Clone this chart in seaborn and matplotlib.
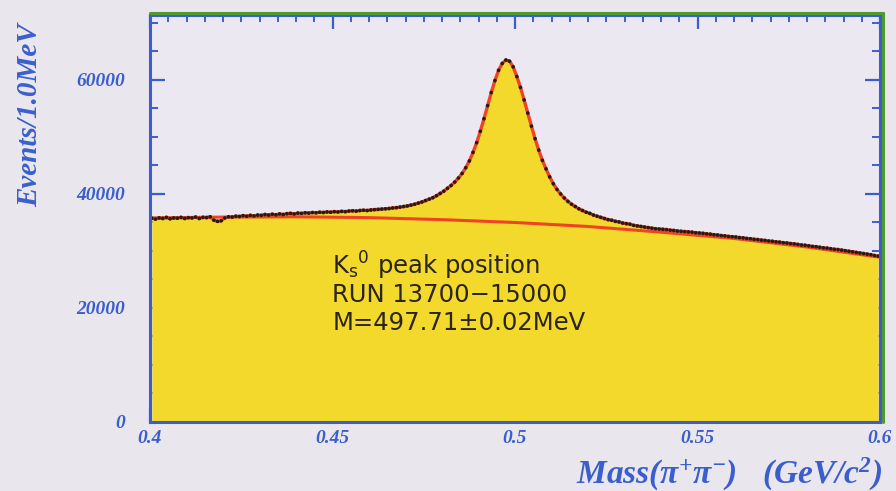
import numpy as np
import pandas as pd
import matplotlib
matplotlib.use("Agg")
import matplotlib.pyplot as plt
import seaborn as sns
from matplotlib.ticker import MultipleLocator, FixedLocator, FixedFormatter

# ---------------- data ----------------
# bin centres: 1 MeV bins from 0.400 to 0.600 GeV
bin_lo = 0.400
bin_width = 0.001
counts = [
    35750, 35600, 35800, 35700, 35900, 35650, 35800, 35750, 35900, 35700,
    35850, 35800, 35950, 35700, 35900, 35850, 36000, 35400, 35200, 35300,
    35800, 36000, 35950, 36100, 36050, 36200, 36100, 36250, 36150, 36300,
    36250, 36400, 36300, 36450, 36350, 36500, 36400, 36550, 36600, 36500,
    36650, 36600, 36700, 36650, 36750, 36700, 36800, 36750, 36850, 36800,
    36900, 36850, 36950, 36900, 37000, 37050, 37000, 37100, 37150, 37100,
    37200, 37250, 37300, 37350, 37400, 37450, 37550, 37600, 37700, 37800,
    37900, 38050, 38200, 38400, 38600, 38850, 39100, 39350, 39700, 40100,
    40500, 41000, 41500, 42100, 42800, 43600, 44600, 45800, 47300, 49000,
    51000, 53200, 55500, 57800, 59900, 61700, 62900, 63500, 63300, 62300,
    60600, 58700, 56500, 54200, 51900, 49700, 47700, 45900, 44400, 43000,
    41800, 40800, 40000, 39300, 38700, 38200, 37800, 37400, 37100, 36800,
    36600, 36300, 36100, 35900, 35700, 35500, 35400, 35200, 35100, 34900,
    34800, 34700, 34500, 34400, 34300, 34200, 34100, 34000, 33900, 33850,
    33800, 33750, 33650, 33600, 33500, 33450, 33400, 33350, 33300, 33200,
    33150, 33100, 33000, 32950, 32850, 32800, 32700, 32650, 32550, 32500,
    32450, 32350, 32300, 32200, 32150, 32050, 32000, 31900, 31850, 31750,
    31700, 31600, 31550, 31450, 31400, 31300, 31250, 31150, 31050, 31000,
    30900, 30800, 30750, 30650, 30550, 30500, 30400, 30300, 30250, 30150,
    30050, 29950, 29850, 29750, 29650, 29550, 29450, 29350, 29200, 29100,
]

# background fit curve
bg_mass = [0.400, 0.420, 0.440, 0.460, 0.480, 0.500, 0.520, 0.540, 0.560, 0.580, 0.600]
bg_counts = [35800, 35950, 36000, 35850, 35500, 35000, 34300, 33300, 32200, 30700, 28900]

x_ticks = [0.4, 0.45, 0.5, 0.55, 0.6]
x_tick_labels = ["0.4", "0.45", "0.5", "0.55", "0.6"]
y_ticks = [0, 20000, 40000, 60000]
y_tick_labels = ["0", "20000", "40000", "60000"]

info_lines = ["K$_\\mathregular{s}$$^\\mathregular{0}$ peak position",
              "RUN 13700\u221215000",
              "M=497.71\u00b10.02MeV"]

# ---------------- build table ----------------
mass = bin_lo + bin_width * (np.arange(len(counts)) + 0.5)
df = pd.DataFrame({"mass": mass, "counts": counts})
bg = pd.DataFrame({"mass": bg_mass, "counts": bg_counts})

# ---------------- style ----------------
sns.set_style("white")
plt.rcParams["font.family"] = ["DejaVu Sans"]
plt.rcParams["mathtext.fontset"] = "custom"
plt.rcParams["mathtext.rm"] = "Liberation Serif:bold:italic"
plt.rcParams["mathtext.it"] = "Liberation Serif:bold:italic"
plt.rcParams["mathtext.bf"] = "Liberation Serif:bold:italic"
plt.rcParams["mathtext.default"] = "regular"

BLUE = "#3a5fcd"
GREEN = "#4f9a2c"
YELLOW = "#f3d92c"
PANEL = "#ece8f2"
FIGBG = "#eae6ee"
RED = "#ee4422"

fig = plt.figure(figsize=(8.96, 4.91), dpi=100, facecolor=FIGBG)
ax = fig.add_axes([150 / 896, 1 - 422 / 491, (880 - 150) / 896, (422 - 15) / 491])
ax.set_facecolor(PANEL)

ax.fill_between(df["mass"], df["counts"], 0, color=YELLOW, lw=0, zorder=1)
sns.lineplot(data=bg, x="mass", y="counts", ax=ax, color=RED, lw=2.2, zorder=3)
sns.lineplot(data=df, x="mass", y="counts", ax=ax, color=RED, lw=2.4, zorder=3)
sns.scatterplot(data=df, x="mass", y="counts", ax=ax, color="#2a1a14", s=7,
                edgecolor="none", zorder=4)

ax.set_xlim(0.4, 0.6)
ax.set_ylim(0, 71400)
ax.set_xlabel("")
ax.set_ylabel("")

ax.xaxis.set_major_locator(FixedLocator(x_ticks))
ax.xaxis.set_major_formatter(FixedFormatter(x_tick_labels))
ax.yaxis.set_major_locator(FixedLocator(y_ticks))
ax.yaxis.set_major_formatter(FixedFormatter(y_tick_labels))
ax.xaxis.set_minor_locator(MultipleLocator(0.005))
ax.yaxis.set_minor_locator(MultipleLocator(5000))
for lab in ax.get_xticklabels() + ax.get_yticklabels():
    lab.set_fontfamily("Liberation Serif")
    lab.set_fontweight("bold")
    lab.set_fontstyle("italic")
    lab.set_fontsize(14)
    lab.set_color(BLUE)

ax.tick_params(axis="both", which="both", direction="in", color=BLUE,
               top=True, right=True, bottom=True, left=True)
ax.tick_params(axis="y", which="major", length=11, width=1.6, pad=18)
ax.tick_params(axis="y", which="minor", length=6, width=1.4)
ax.tick_params(axis="x", which="major", length=10, width=1.6, pad=6)
ax.tick_params(axis="x", which="minor", length=5, width=1.4)

for s in ax.spines.values():
    s.set_color(BLUE)
    s.set_linewidth(2.2)
    s.set_zorder(6)

# green shadow on top and right frame
ax.plot([0, 1.004], [1.006, 1.006], transform=ax.transAxes, color=GREEN, lw=2.2,
        clip_on=False, zorder=7)
ax.plot([1.004, 1.004], [0, 1.006], transform=ax.transAxes, color=GREEN, lw=2.2,
        clip_on=False, zorder=7)

# info text
for txt, yv in zip(info_lines, [27300, 22300, 17400]):
    t = ax.text(0.4499, yv, txt, ha="left", va="center", fontsize=17.5,
                color="#2b2418", family="DejaVu Sans", zorder=8)
    t.set_math_fontfamily("dejavusans")

# axis titles
fig.text(882 / 896, 1 - 474 / 491, "Mass(\u03c0$^{+}$\u03c0$^{-}$)   (GeV/c$^{2}$)",
         ha="right", va="center", fontsize=24, color=BLUE,
         family="Liberation Serif", weight="bold", style="italic")
fig.text(30 / 896, 1 - 115 / 491, "Events/1.0MeV", rotation=90,
         ha="center", va="center", fontsize=21, color=BLUE,
         family="Liberation Serif", weight="bold", style="italic")

fig.savefig("out.png", dpi=100, facecolor=FIGBG)
